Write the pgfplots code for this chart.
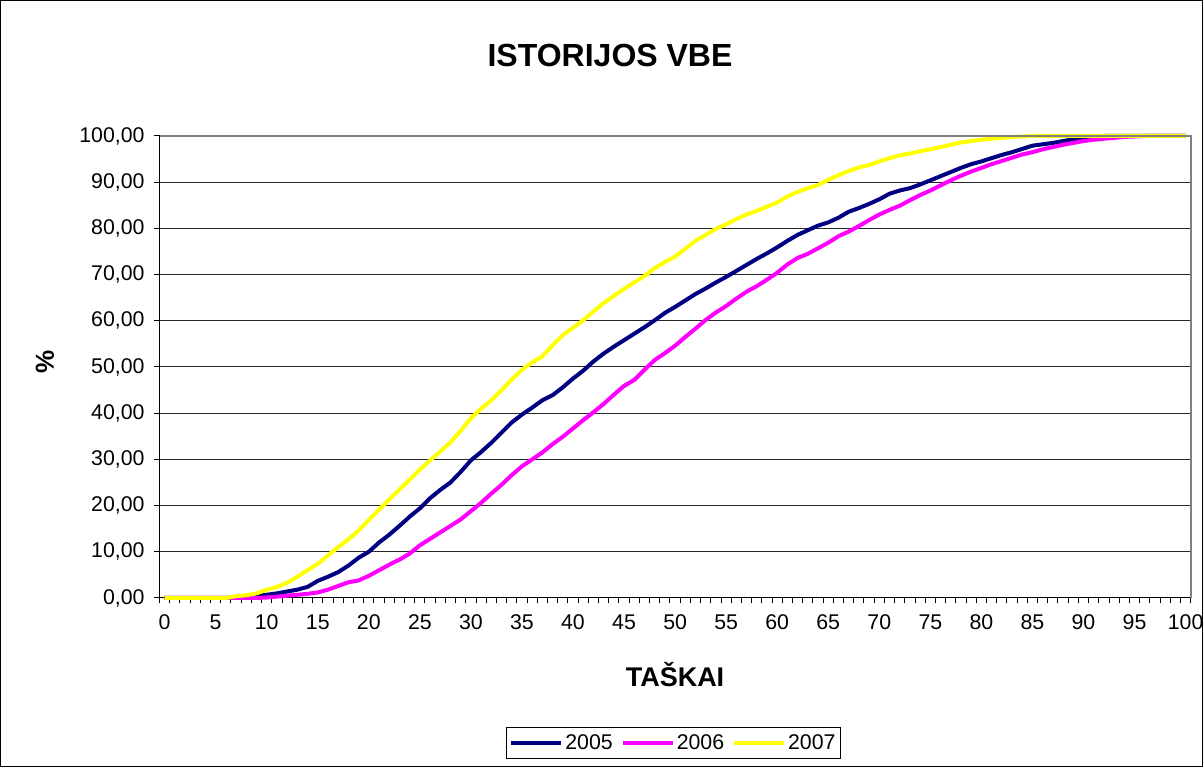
\documentclass[border=0pt]{standalone}
\usepackage{pgfplots}
\pgfplotsset{compat=1.18}
\usepackage{pgfplotstable}
\usepackage{fontspec}
\setmainfont{Liberation Sans}
\definecolor{cnavy}{RGB}{0,0,128}
\definecolor{cmag}{RGB}{255,0,255}
\definecolor{cyel}{RGB}{255,255,0}
\definecolor{cgrid}{RGB}{40,40,40}
\definecolor{cborder}{RGB}{128,128,128}

\pgfplotstableread{
x y
0 0
1 0
2 0
3 0
4 0
5 0
6 0
7 0
8 0.2
9 0.4
10 0.7
11 1.0
12 1.4
13 1.8
14 2.4
15 3.7
16 4.6
17 5.6
18 7.0
19 8.7
20 10.0
21 12.0
22 13.7
23 15.6
24 17.6
25 19.4
26 21.6
27 23.4
28 25.0
29 27.3
30 29.8
31 31.6
32 33.6
33 35.8
34 38.0
35 39.7
36 41.2
37 42.8
38 43.9
39 45.6
40 47.5
41 49.2
42 51.2
43 52.9
44 54.4
45 55.8
46 57.2
47 58.6
48 60.1
49 61.7
50 63.0
51 64.4
52 65.8
53 67.0
54 68.3
55 69.5
56 70.8
57 72.1
58 73.4
59 74.6
60 75.9
61 77.3
62 78.6
63 79.6
64 80.6
65 81.3
66 82.3
67 83.6
68 84.4
69 85.3
70 86.3
71 87.5
72 88.2
73 88.7
74 89.5
75 90.4
76 91.3
77 92.2
78 93.1
79 93.9
80 94.5
81 95.2
82 95.9
83 96.5
84 97.2
85 97.9
86 98.2
87 98.5
88 98.9
89 99.3
90 99.7
91 99.9
92 100
93 100
94 100
95 100
96 100
97 100
98 100
99 100
100 100
}\dataA

\pgfplotstableread{
x y
0 0
1 0
2 0
3 0
4 0
5 0
6 0
7 0
8 0
9 0
10 0.1
11 0.3
12 0.5
13 0.7
14 0.9
15 1.2
16 1.8
17 2.6
18 3.4
19 3.8
20 4.8
21 6.0
22 7.2
23 8.3
24 9.6
25 11.4
26 12.8
27 14.2
28 15.6
29 17.0
30 18.8
31 20.6
32 22.6
33 24.5
34 26.6
35 28.5
36 30.0
37 31.5
38 33.3
39 34.9
40 36.7
41 38.5
42 40.2
43 42.0
44 44.0
45 45.9
46 47.2
47 49.4
48 51.5
49 53.0
50 54.6
51 56.5
52 58.3
53 60.2
54 61.8
55 63.2
56 64.8
57 66.3
58 67.5
59 68.9
60 70.4
61 72.2
62 73.6
63 74.5
64 75.7
65 76.9
66 78.3
67 79.3
68 80.5
69 81.8
70 83.0
71 84.0
72 84.9
73 86.1
74 87.2
75 88.2
76 89.3
77 90.4
78 91.4
79 92.3
80 93.1
81 93.9
82 94.6
83 95.3
84 96.0
85 96.5
86 97.1
87 97.6
88 98.1
89 98.5
90 98.9
91 99.2
92 99.4
93 99.6
94 99.8
95 99.9
96 100
97 100
98 100
99 100
100 100
}\dataB

\pgfplotstableread{
x y
0 0
1 0
2 0
3 0
4 0
5 0
6 0
7 0.4
8 0.6
9 1.0
10 1.8
11 2.4
12 3.3
13 4.6
14 6.0
15 7.4
16 9.2
17 11.0
18 12.7
19 14.6
20 16.9
21 19.1
22 21.3
23 23.5
24 25.6
25 27.8
26 29.8
27 31.7
28 33.7
29 36.2
30 38.9
31 41.0
32 42.8
33 45.0
34 47.3
35 49.4
36 51.0
37 52.3
38 54.7
39 56.9
40 58.5
41 60.1
42 62.0
43 63.8
44 65.4
45 66.9
46 68.3
47 69.7
48 71.4
49 72.7
50 73.9
51 75.6
52 77.3
53 78.6
54 79.9
55 80.9
56 82.0
57 83.0
58 83.8
59 84.7
60 85.6
61 86.9
62 87.9
63 88.7
64 89.4
65 90.5
66 91.5
67 92.4
68 93.2
69 93.7
70 94.5
71 95.2
72 95.8
73 96.2
74 96.7
75 97.1
76 97.6
77 98.1
78 98.6
79 98.9
80 99.2
81 99.4
82 99.6
83 99.8
84 99.9
85 100
86 100
87 100
88 100
89 100
90 100
91 100
92 100
93 100
94 100
95 100
96 100
97 100
98 100
99 100
100 100
}\dataC

\begin{document}
\begin{tikzpicture}[x=1pt,y=1pt]
\path[use as bounding box] (0,0) rectangle (1203,767);
\draw[black, line width=1pt] (0.5,0.5) rectangle (1202.5,766.5);
\node[font=\fontsize{32}{37}\selectfont\bfseries] at (610,712) {ISTORIJOS VBE};
\node[font=\fontsize{26}{30}\selectfont\bfseries, rotate=90] at (45,405) {\%};
\node[font=\fontsize{27}{31}\selectfont\bfseries] at (675,92) {TAŠKAI};
\begin{axis}[
  at={(159.5pt,169pt)}, anchor=south west,
  scale only axis, width=1031.2pt, height=462pt,
  xmin=-0.5, xmax=100.5, ymin=0, ymax=100,
  axis x line*=bottom, axis y line*=left,
  axis line style={black, line width=1pt},
  xtick={0,5,...,100},
  minor xtick={-0.5,0.5,...,100.5},
  ytick={0,10,...,100},
  tick align=outside,
  major tick length=5.5pt, minor tick length=5.5pt,
  x tick style={draw=none},
  minor x tick style={draw=black, line width=1pt},
  y tick style={black, line width=1pt},
  ymajorgrids, grid style={cgrid, line width=1pt},
  every tick label/.append style={font=\fontsize{21.3}{25}\selectfont},
  xticklabel style={yshift=-8pt},
  yticklabel style={xshift=-6pt},
  /pgf/number format/assume math mode=true,
  yticklabel={\pgfmathprintnumber[fixed, fixed zerofill, precision=2, use comma]{\tick}},
  legend style={at={(0.4984,-0.3139)}, anchor=center, draw=black, line width=1pt,
     font=\fontsize{21.3}{25}\selectfont, legend columns=3,
     inner xsep=3pt, inner ysep=5pt,
     /tikz/every even column/.append style={column sep=6pt}},
  legend image code/.code={\draw[#1] (0pt,0pt) -- (50pt,0pt);},
  clip=false,
]
\addplot[cnavy, line width=4pt, line join=round] table[x=x,y=y] {\dataA};
\addplot[cmag, line width=4pt, line join=round] table[x=x,y=y] {\dataB};
\addplot[cyel, line width=4pt, line join=round] table[x=x,y=y] {\dataC};
\legend{2005,2006,2007}
\draw[cborder, line width=2pt] (rel axis cs:0,1) -- (rel axis cs:1,1) -- (rel axis cs:1,0);
\end{axis}
\end{tikzpicture}
\end{document}
